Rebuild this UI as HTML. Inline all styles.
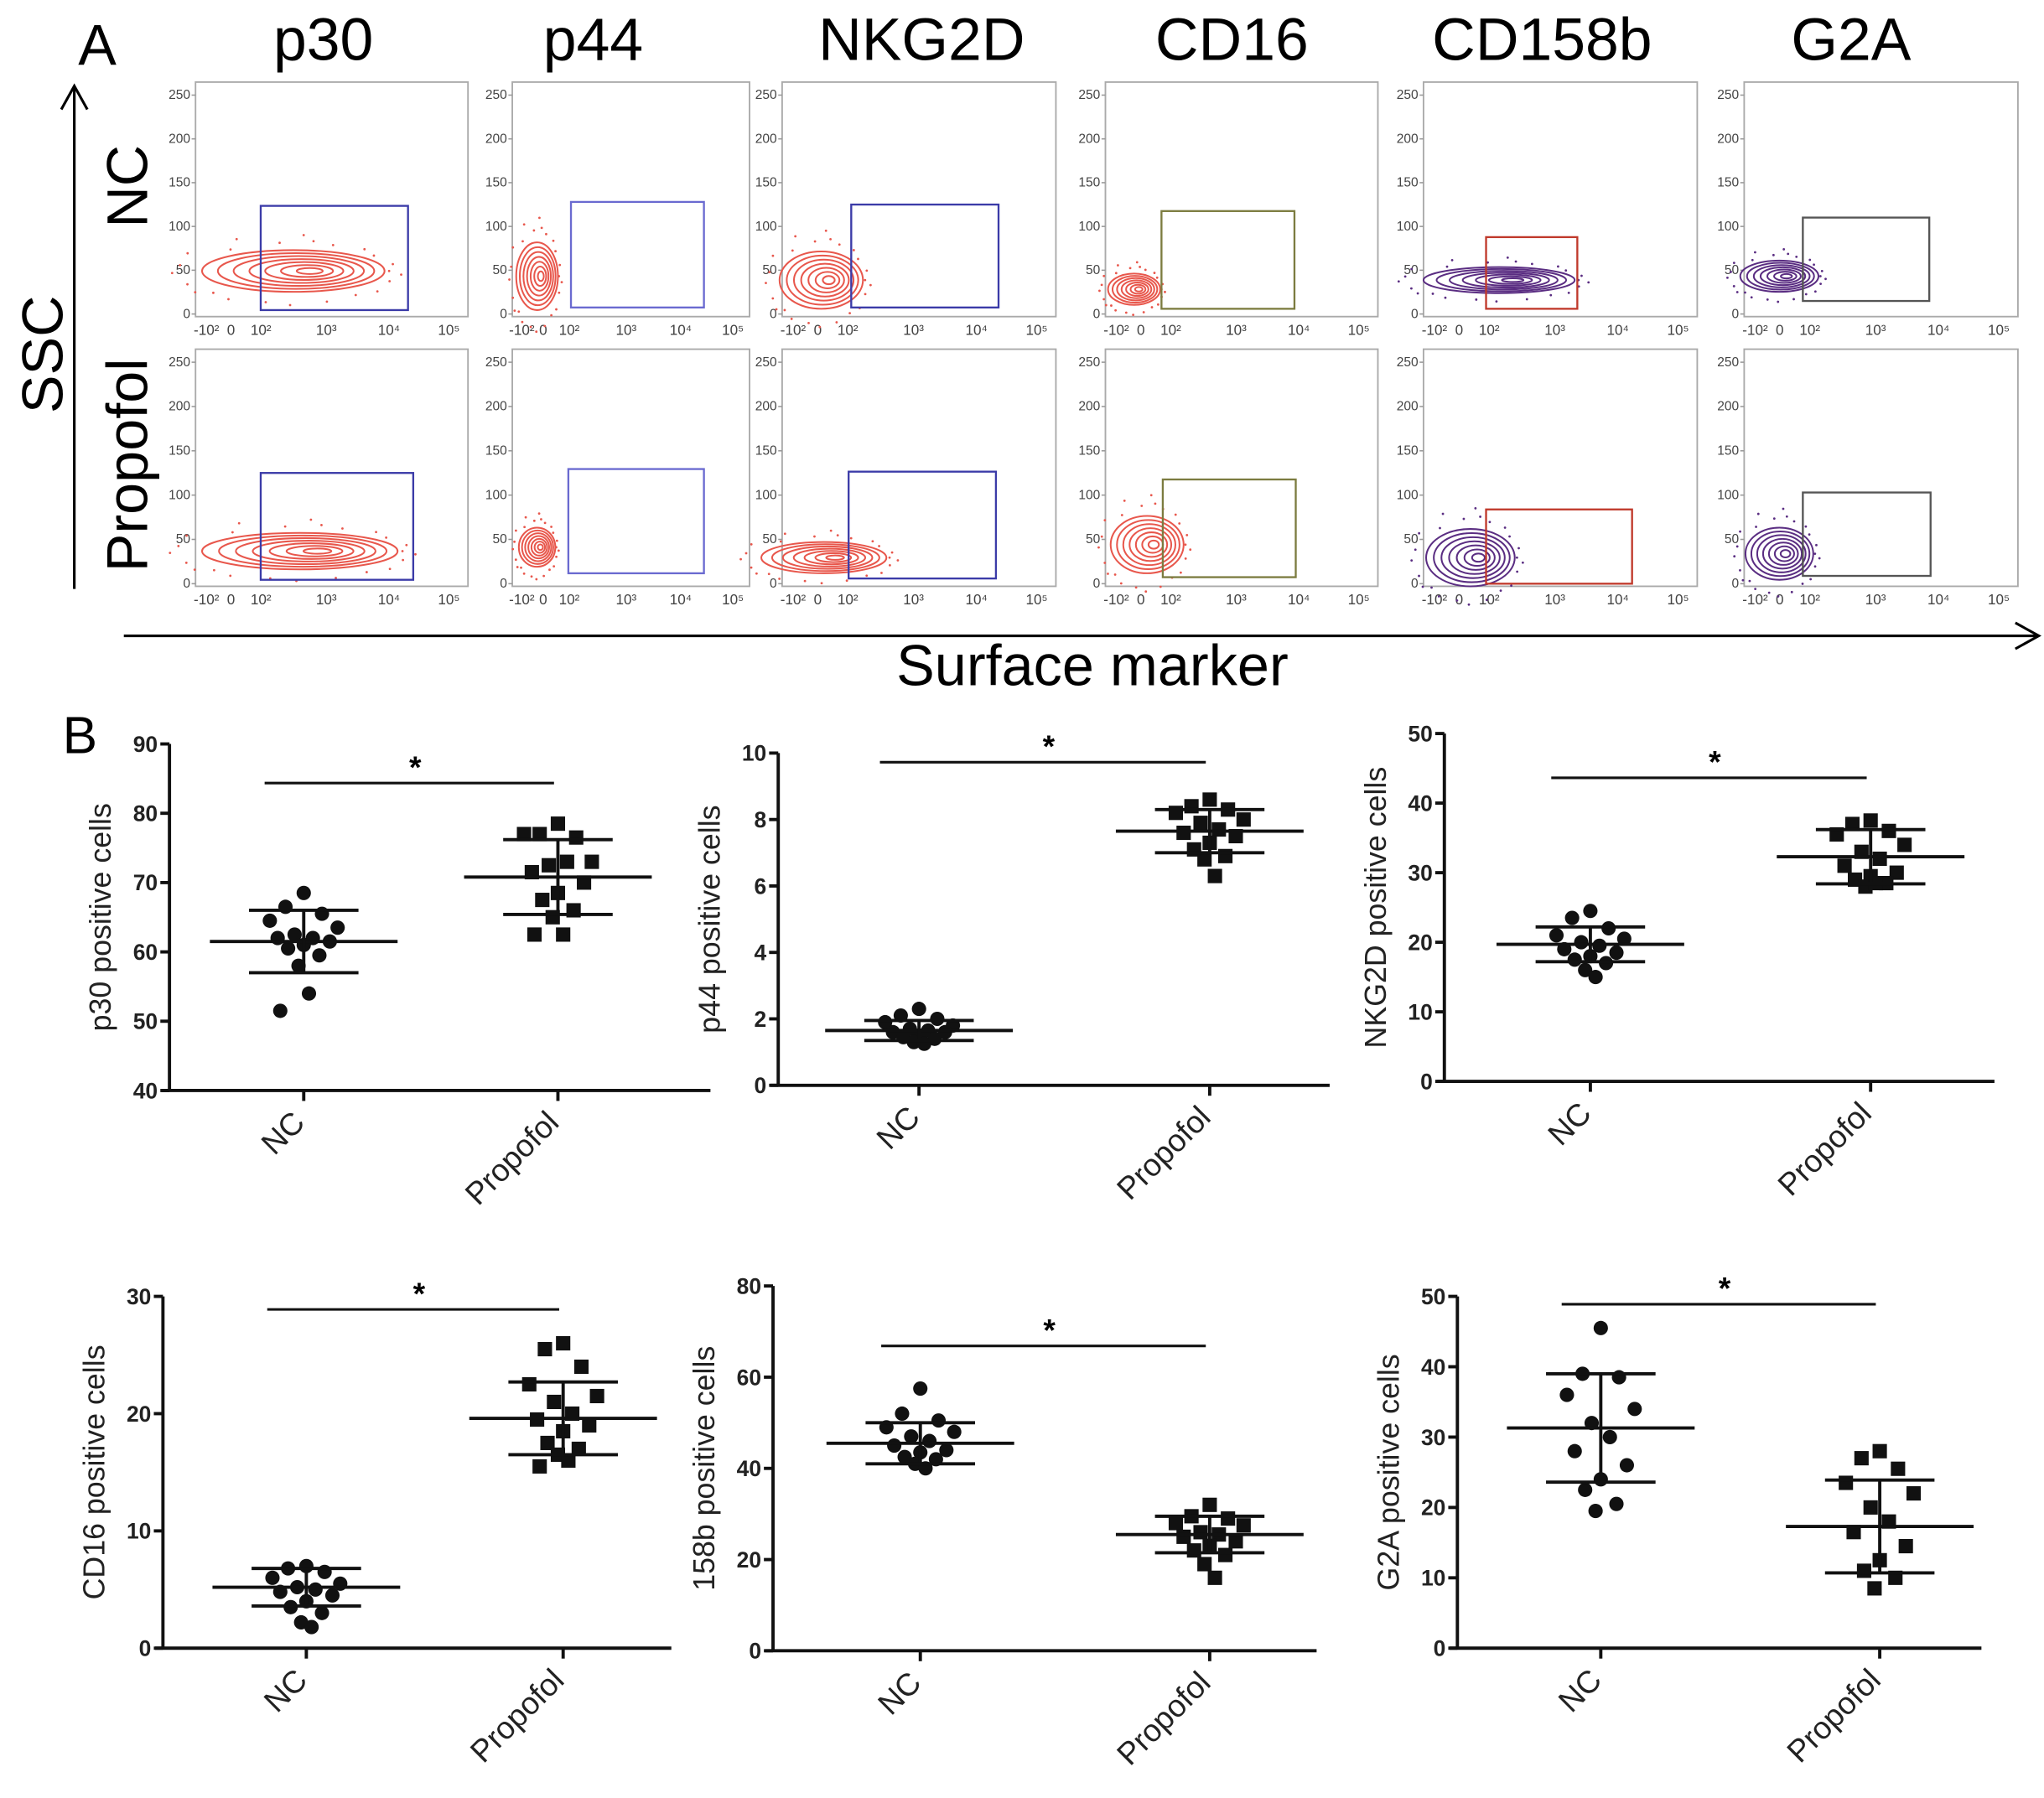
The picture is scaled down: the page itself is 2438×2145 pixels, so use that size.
<!DOCTYPE html>
<html><head><meta charset="utf-8"><style>
html,body{margin:0;padding:0;background:#fff;}
svg{display:block;font-family:"Liberation Sans",sans-serif;}
</style></head><body>
<svg id="fig" width="2438" height="2145" viewBox="0 0 1568 1380" preserveAspectRatio="none" xmlns="http://www.w3.org/2000/svg">
<rect width="1568" height="1380" fill="#fff"/>
<text x="60" y="50" font-size="44">A</text>
<text x="48" y="578" font-size="40">B</text>
<line x1="57" y1="452" x2="57" y2="68" stroke="#000" stroke-width="2"/>
<polyline points="47,84 57,66 67,84" fill="none" stroke="#000" stroke-width="2"/>
<text transform="translate(48,272) rotate(-90)" text-anchor="middle" font-size="44">SSC</text>
<text transform="translate(113,143) rotate(-90)" text-anchor="middle" font-size="44">NC</text>
<text transform="translate(113,357) rotate(-90)" text-anchor="middle" font-size="44">Propofol</text>
<line x1="95" y1="488" x2="1562" y2="488" stroke="#000" stroke-width="2"/>
<polyline points="1546,478 1564,488 1546,498" fill="none" stroke="#000" stroke-width="2"/>
<text x="838" y="526" text-anchor="middle" font-size="44">Surface marker</text>
</svg>
<script>
const NS='http://www.w3.org/2000/svg';
const svg=document.getElementById('fig');
function mk(tag,attrs,parent){const e=document.createElementNS(NS,tag);for(const k in attrs)e.setAttribute(k,attrs[k]);(parent||svg).appendChild(e);return e;}

/* ---------- Panel B data ---------- */
const groups=['NC','Propofol'];
const chartNames=['p30','p44','NKG2D','CD16','158b','G2A'];
const p30NC=[68.5,66.5,65.5,64.5,63.5,62.5,62,62,61.5,61,60.5,59.5,58,54,51.5];
const p30Prop=[78.5,77,76.5,77,73,72.5,73,71.5,70,68.5,67.5,66,65,62.5,62.5];
const p30Mean=[61.5,70.8];
const p30SD=[4.5,5.4];
const p44NC=[2.3,2.1,2.0,1.9,1.8,1.7,1.65,1.6,1.6,1.5,1.45,1.4,1.3,1.25];
const p44Prop=[8.6,8.4,8.3,8.2,8.0,7.9,7.7,7.6,7.5,7.3,7.1,6.9,6.8,6.3];
const p44Mean=[1.65,7.65];
const p44SD=[0.3,0.65];
const nkNC=[24.5,23.5,22,21,20.5,20,19.5,19,18.5,18,17.5,17,16,15];
const nkProp=[37.5,37,36,35.5,34,33,32,31,30,29.5,29,28.5,28,28.5];
const nkMean=[19.7,32.3];
const nkSD=[2.5,3.9];
const cd16NC=[7,6.8,6.5,6,5.5,5.2,5,4.8,4.5,4,3.5,3,2.2,1.8];
const cd16Prop=[26,25.5,24,22.5,21.5,21,20,19.5,19,18.5,17.5,17,16.5,16,15.5];
const cd16Mean=[5.2,19.6];
const cd16SD=[1.6,3.1];
const b158NC=[57.5,52,50.5,49,48,47,46,45,44,43.5,42.5,42,41,40];
const b158Prop=[32,29.5,29,28,27.5,26,25.5,25,24,23,22,21,19,16];
const b158Mean=[45.5,25.5];
const b158SD=[4.5,4];
const g2aNC=[45.5,39,38.5,36,34,32,30,28,26,24,22.5,20.5,19.5];
const g2aProp=[28,27,25.5,23.5,22,20,18,16.5,14.5,12.5,11,10,8.5];
const g2aMean=[31.3,17.3];
const g2aSD=[7.7,6.6];
const p30Ticks=[40,50,60,70,80,90];
const p44Ticks=[0,2,4,6,8,10];
const nkTicks=[0,10,20,30,40,50];
const cd16Ticks=[0,10,20,30];
const b158Ticks=[0,20,40,60,80];
const g2aTicks=[0,10,20,30,40,50];

const layouts=[
 {ax:130,top:571,bot:837,right:545,x1:233,x2:428,sigY:601,label:'p30 positive cells',nc:p30NC,pr:p30Prop,mean:p30Mean,sd:p30SD,ticks:p30Ticks},
 {ax:597,top:578,bot:833,right:1020,x1:705,x2:928,sigY:585,label:'p44 positive cells',nc:p44NC,pr:p44Prop,mean:p44Mean,sd:p44SD,ticks:p44Ticks},
 {ax:1108,top:563,bot:830,right:1530,x1:1220,x2:1435,sigY:597,label:'NKG2D positive cells',nc:nkNC,pr:nkProp,mean:nkMean,sd:nkSD,ticks:nkTicks},
 {ax:125,top:995,bot:1265,right:515,x1:235,x2:432,sigY:1005,label:'CD16 positive cells',nc:cd16NC,pr:cd16Prop,mean:cd16Mean,sd:cd16SD,ticks:cd16Ticks},
 {ax:593,top:987,bot:1267,right:1010,x1:706,x2:928,sigY:1033,label:'158b positive cells',nc:b158NC,pr:b158Prop,mean:b158Mean,sd:b158SD,ticks:b158Ticks},
 {ax:1118,top:995,bot:1265,right:1520,x1:1228,x2:1442,sigY:1001,label:'G2A positive cells',nc:g2aNC,pr:g2aProp,mean:g2aMean,sd:g2aSD,ticks:g2aTicks}
];
const jit=[0,-14,14,-26,26,-7,7,-20,20,0,-12,12,-4,4,-18,18];

layouts.forEach((L,ci)=>{
  const g=mk('g',{});
  
  
  const t=L.ticks, mn=t[0], mx=t[t.length-1];
  const y=v=>L.bot-(v-mn)/(mx-mn)*(L.bot-L.top);
  const ya=mk('line',{x1:L.ax,y1:L.top,x2:L.ax,y2:L.bot,stroke:'#111','stroke-width':2.5},g);
  
  
  const xa=mk('line',{x1:L.ax-6,y1:L.bot,x2:L.right,y2:L.bot,stroke:'#111','stroke-width':2.5},g);
  
  
  t.forEach(v=>{
    mk('line',{x1:L.ax-7,y1:y(v),x2:L.ax,y2:y(v),stroke:'#111','stroke-width':2.5},g);
    const tl=mk('text',{x:L.ax-9,y:y(v)+6,'text-anchor':'end','font-size':17,'font-weight':'bold',fill:'#222'},g);
    tl.textContent=v;
    
    
  });
  const yl=mk('text',{transform:`translate(${L.ax-45},${(L.top+L.bot)/2}) rotate(-90)`,'text-anchor':'middle','font-size':23,fill:'#222'},g);
  yl.textContent=L.label;
  
  
  [L.x1,L.x2].forEach((cx,gi)=>{
    mk('line',{x1:cx,y1:L.bot,x2:cx,y2:L.bot+8,stroke:'#111','stroke-width':2.5},g);
    const xl=mk('text',{transform:`translate(${cx+2},${L.bot+26}) rotate(-45)`,'text-anchor':'end','font-size':24,fill:'#222'},g);
    xl.textContent=groups[gi];
    
    
  });
  const sig=mk('line',{x1:L.x1-30,y1:L.sigY,x2:L.x2-3,y2:L.sigY,stroke:'#111','stroke-width':2},g);
  
  
  const st=mk('text',{x:(L.x1+L.x2)/2-12,y:L.sigY-4,'text-anchor':'middle','font-size':24,'font-weight':'bold'},g);
  st.textContent='*';
  
  
  [L.nc,L.pr].forEach((arr,gi)=>{
    const cx=gi?L.x2:L.x1;
    arr.forEach((v,i)=>{
      const px=cx+jit[i%jit.length];
      let m;
      if(gi===0){m=mk('circle',{cx:px,cy:y(v),r:5.5,fill:'#111'},g);}
      else{m=mk('rect',{x:px-5.5,y:y(v)-5.5,width:11,height:11,fill:'#111'},g);}
      
    });
    const me=L.mean[gi], sd=L.sd[gi];
    const ml=mk('line',{x1:cx-72,y1:y(me),x2:cx+72,y2:y(me),stroke:'#111','stroke-width':2.5},g);
    
    
    mk('line',{x1:cx,y1:y(me+sd),x2:cx,y2:y(me-sd),stroke:'#111','stroke-width':2.5},g);
    [me+sd,me-sd].forEach(s=>{
      const sl=mk('line',{x1:cx-42,y1:y(s),x2:cx+42,y2:y(s),stroke:'#111','stroke-width':2.5},g);
      
      
    });
  });
});

/* ---------- Panel A flow plots ---------- */
const markers=['p30','p44','NKG2D','CD16','CD158b','G2A'];
const titleX=[248,455,707,945,1183,1420];
const boxX=[[150,359],[393,575],[600,810],[848,1057],[1092,1302],[1338,1548]];
const rowsY=[[63,243],[268,450]];
const gateColor=['#3b3ba8','#6a6ad0','#3b3ba8','#7c7c40','#c0392b','#555'];
const blobColor=['#e8574c','#e8574c','#e8574c','#e8574c','#5a2d82','#5a2d82'];
const gates=[[[200,158,313,238],[438,155,540,236],[653,157,766,236],[891,162,993,237],[1140,182,1210,237],[1383,167,1480,231]],
             [[200,363,317,445],[436,360,540,440],[651,362,764,444],[892,368,994,443],[1140,391,1252,448],[1383,378,1481,442]]];
const blobs=[[[225,208,70,16],[412,212,16,26],[630,215,32,22],[870,222,20,12],[1150,215,58,10],[1365,212,30,12]],
             [[230,423,75,14],[412,420,14,15],[632,428,48,12],[880,418,28,22],[1128,428,34,22],[1365,425,26,20]]];
const tickFr=[0.04,0.13,0.24,0.48,0.71,0.93];
const tickTx=['-10²','0','10²','10³','10⁴','10⁵'];

markers.forEach((m,ci)=>{
  const tt=mk('text',{x:titleX[ci],y:46,'text-anchor':'middle','font-size':46});
  tt.textContent=m;
  
  
  rowsY.forEach((ry,ri)=>{
    const [x0,x1]=boxX[ci],[y0,y1]=ry;
    const g=mk('g',{});
    
    
    mk('rect',{x:x0,y:y0,width:x1-x0,height:y1-y0,fill:'#fff',stroke:'#aaa','stroke-width':1.2},g);
    [0,50,100,150,200,250].forEach(v=>{
      const yy=y1-2-v/250*(y1-y0-12);
      mk('line',{x1:x0-3,y1:yy,x2:x0,y2:yy,stroke:'#999'},g);
      const l=mk('text',{x:x0-4,y:yy+3,'text-anchor':'end','font-size':10,fill:'#444'},g);
      l.textContent=v;
    });
    tickFr.forEach((f,i)=>{
      const l=mk('text',{x:x0+f*(x1-x0),y:y1+14,'text-anchor':'middle','font-size':11,fill:'#444'},g);
      l.textContent=tickTx[i];
    });
    const [bx,by,rx,rY]=blobs[ri][ci];
    const col=blobColor[ci];
    for(let k=7;k>=1;k--){
      mk('ellipse',{cx:bx+(7-k)*rx*0.03,cy:by,rx:rx*k/7,ry:rY*k/7,fill:'none',stroke:col,'stroke-width':1.3},g);
    }
    for(let k=0;k<24;k++){
      const a=k*2.399, r=1.05+0.35*((k*7)%5)/5;
      mk('circle',{cx:bx+Math.cos(a)*rx*r,cy:by+Math.sin(a)*rY*r*1.3,r:0.9,fill:col},g);
    }
    const gt=gates[ri][ci];
    const gr=mk('rect',{x:gt[0],y:gt[1],width:gt[2]-gt[0],height:gt[3]-gt[1],fill:'none',stroke:gateColor[ci],'stroke-width':1.5},g);
    
    
  });
});
</script>
</body></html>
